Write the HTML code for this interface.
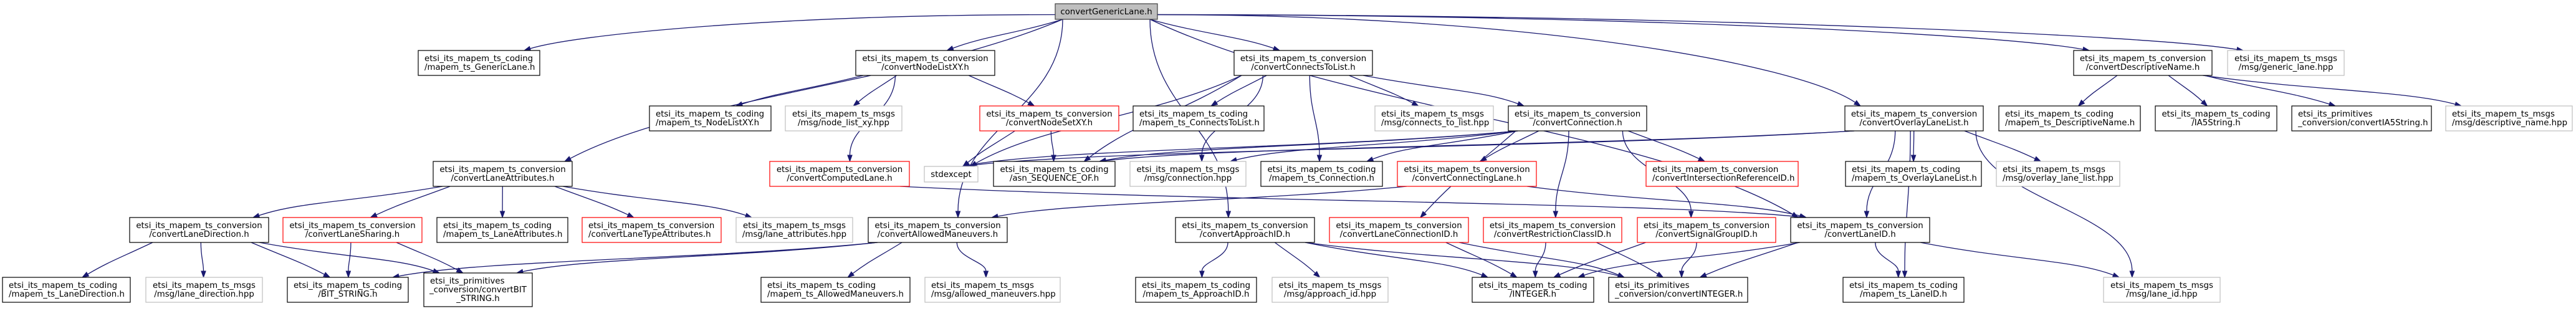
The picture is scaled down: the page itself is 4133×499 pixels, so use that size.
<!DOCTYPE html>
<html><head><meta charset="utf-8"><style>
html,body{margin:0;padding:0;background:#fff;width:4133px;height:499px;overflow:hidden}
svg text{font-family:"DejaVu Sans","Liberation Sans",sans-serif;font-size:13.33px;fill:#000}
</style></head><body>
<svg id="s" width="4133" height="499" viewBox="0 0 4133 499" xmlns="http://www.w3.org/2000/svg">
<g id="edges"></g>
<g id="nodes" stroke-width="1.2">
<rect x="1693" y="6" width="164" height="25" fill="#bfbfbf" stroke="#404040"/><text x="1775" y="23" text-anchor="middle">convertGenericLane.h</text>
<rect x="671" y="81" width="195" height="40" fill="#fff" stroke="#000"/><text x="681" y="98">etsi_its_mapem_ts_coding</text><text x="681" y="112">/mapem_ts_GenericLane.h</text>
<rect x="1373" y="81" width="223" height="40" fill="#fff" stroke="#000"/><text x="1484.5" y="98" text-anchor="middle">etsi_its_mapem_ts_conversion</text><text x="1484.5" y="112" text-anchor="middle">/convertNodeListXY.h</text>
<rect x="1980" y="81" width="222" height="40" fill="#fff" stroke="#000"/><text x="2091" y="98" text-anchor="middle">etsi_its_mapem_ts_conversion</text><text x="2091" y="112" text-anchor="middle">/convertConnectsToList.h</text>
<rect x="3327" y="81" width="222" height="40" fill="#fff" stroke="#000"/><text x="3438" y="98" text-anchor="middle">etsi_its_mapem_ts_conversion</text><text x="3438" y="112" text-anchor="middle">/convertDescriptiveName.h</text>
<rect x="3574" y="81" width="187" height="40" fill="#fff" stroke="#bfbfbf"/><text x="3667.5" y="98" text-anchor="middle">etsi_its_mapem_ts_msgs</text><text x="3667.5" y="112" text-anchor="middle">/msg/generic_lane.hpp</text>

<rect x="1042" y="170" width="195" height="40" fill="#fff" stroke="#000"/><text x="1052" y="187">etsi_its_mapem_ts_coding</text><text x="1052" y="201">/mapem_ts_NodeListXY.h</text>
<rect x="1260" y="170" width="187" height="40" fill="#fff" stroke="#bfbfbf"/><text x="1353.5" y="187" text-anchor="middle">etsi_its_mapem_ts_msgs</text><text x="1353.5" y="201" text-anchor="middle">/msg/node_list_xy.hpp</text>
<rect x="1572" y="170" width="223" height="40" fill="#fff" stroke="#f00"/><text x="1683.5" y="187" text-anchor="middle">etsi_its_mapem_ts_conversion</text><text x="1683.5" y="201" text-anchor="middle">/convertNodeSetXY.h</text>
<rect x="1818" y="170" width="210" height="40" fill="#fff" stroke="#000"/><text x="1828" y="187">etsi_its_mapem_ts_coding</text><text x="1828" y="201">/mapem_ts_ConnectsToList.h</text>
<rect x="2206" y="170" width="190" height="40" fill="#fff" stroke="#bfbfbf"/><text x="2216" y="187">etsi_its_mapem_ts_msgs</text><text x="2216" y="201">/msg/connects_to_list.hpp</text>
<rect x="2420" y="170" width="222" height="40" fill="#fff" stroke="#000"/><text x="2531" y="187" text-anchor="middle">etsi_its_mapem_ts_conversion</text><text x="2531" y="201" text-anchor="middle">/convertConnection.h</text>
<rect x="2960" y="170" width="222" height="40" fill="#fff" stroke="#000"/><text x="3071" y="187" text-anchor="middle">etsi_its_mapem_ts_conversion</text><text x="3071" y="201" text-anchor="middle">/convertOverlayLaneList.h</text>
<rect x="3207" y="170" width="227" height="40" fill="#fff" stroke="#000"/><text x="3217" y="187">etsi_its_mapem_ts_coding</text><text x="3217" y="201">/mapem_ts_DescriptiveName.h</text>
<rect x="3458" y="170" width="195" height="40" fill="#fff" stroke="#000"/><text x="3555.5" y="187" text-anchor="middle">etsi_its_mapem_ts_coding</text><text x="3555.5" y="201" text-anchor="middle">/IA5String.h</text>
<rect x="3677" y="170" width="224" height="40" fill="#fff" stroke="#000"/><text x="3687" y="187">etsi_its_primitives</text><text x="3687" y="201">_conversion/convertIA5String.h</text>
<rect x="3924" y="170" width="203" height="40" fill="#fff" stroke="#bfbfbf"/><text x="3934" y="187">etsi_its_mapem_ts_msgs</text><text x="3934" y="201">/msg/descriptive_name.hpp</text>

<rect x="695" y="259" width="223" height="40" fill="#fff" stroke="#000"/><text x="806.5" y="276" text-anchor="middle">etsi_its_mapem_ts_conversion</text><text x="806.5" y="290" text-anchor="middle">/convertLaneAttributes.h</text>
<rect x="1235" y="259" width="224" height="40" fill="#fff" stroke="#f00"/><text x="1347" y="276" text-anchor="middle">etsi_its_mapem_ts_conversion</text><text x="1347" y="290" text-anchor="middle">/convertComputedLane.h</text>
<rect x="1483" y="267" width="86" height="25" fill="#fff" stroke="#bfbfbf"/><text x="1526" y="284" text-anchor="middle">stdexcept</text>
<rect x="1594" y="259" width="195" height="40" fill="#fff" stroke="#000"/><text x="1691.5" y="276" text-anchor="middle">etsi_its_mapem_ts_coding</text><text x="1691.5" y="290" text-anchor="middle">/asn_SEQUENCE_OF.h</text>
<rect x="1813" y="259" width="186" height="40" fill="#fff" stroke="#bfbfbf"/><text x="1906" y="276" text-anchor="middle">etsi_its_mapem_ts_msgs</text><text x="1906" y="290" text-anchor="middle">/msg/connection.hpp</text>
<rect x="2023" y="259" width="195" height="40" fill="#fff" stroke="#000"/><text x="2120.5" y="276" text-anchor="middle">etsi_its_mapem_ts_coding</text><text x="2120.5" y="290" text-anchor="middle">/mapem_ts_Connection.h</text>
<rect x="2242" y="259" width="223" height="40" fill="#fff" stroke="#f00"/><text x="2353.5" y="276" text-anchor="middle">etsi_its_mapem_ts_conversion</text><text x="2353.5" y="290" text-anchor="middle">/convertConnectingLane.h</text>
<rect x="2641" y="259" width="244" height="40" fill="#fff" stroke="#f00"/><text x="2651" y="276">etsi_its_mapem_ts_conversion</text><text x="2651" y="290">/convertIntersectionReferenceID.h</text>
<rect x="2961" y="259" width="218" height="40" fill="#fff" stroke="#000"/><text x="2971" y="276">etsi_its_mapem_ts_coding</text><text x="2971" y="290">/mapem_ts_OverlayLaneList.h</text>
<rect x="3203" y="259" width="198" height="40" fill="#fff" stroke="#bfbfbf"/><text x="3213" y="276">etsi_its_mapem_ts_msgs</text><text x="3213" y="290">/msg/overlay_lane_list.hpp</text>

<rect x="208" y="349" width="223" height="40" fill="#fff" stroke="#000"/><text x="319.5" y="366" text-anchor="middle">etsi_its_mapem_ts_conversion</text><text x="319.5" y="380" text-anchor="middle">/convertLaneDirection.h</text>
<rect x="454" y="349" width="223" height="40" fill="#fff" stroke="#f00"/><text x="565.5" y="366" text-anchor="middle">etsi_its_mapem_ts_conversion</text><text x="565.5" y="380" text-anchor="middle">/convertLaneSharing.h</text>
<rect x="701" y="349" width="210" height="40" fill="#fff" stroke="#000"/><text x="711" y="366">etsi_its_mapem_ts_coding</text><text x="711" y="380">/mapem_ts_LaneAttributes.h</text>
<rect x="934" y="349" width="223" height="40" fill="#fff" stroke="#f00"/><text x="944" y="366">etsi_its_mapem_ts_conversion</text><text x="944" y="380">/convertLaneTypeAttributes.h</text>
<rect x="1181" y="349" width="187" height="40" fill="#fff" stroke="#bfbfbf"/><text x="1274.5" y="366" text-anchor="middle">etsi_its_mapem_ts_msgs</text><text x="1274.5" y="380" text-anchor="middle">/msg/lane_attributes.hpp</text>
<rect x="1393" y="349" width="223" height="40" fill="#fff" stroke="#000"/><text x="1504.5" y="366" text-anchor="middle">etsi_its_mapem_ts_conversion</text><text x="1504.5" y="380" text-anchor="middle">/convertAllowedManeuvers.h</text>
<rect x="1886" y="349" width="223" height="40" fill="#fff" stroke="#000"/><text x="1997.5" y="366" text-anchor="middle">etsi_its_mapem_ts_conversion</text><text x="1997.5" y="380" text-anchor="middle">/convertApproachID.h</text>
<rect x="2133" y="349" width="223" height="40" fill="#fff" stroke="#f00"/><text x="2244.5" y="366" text-anchor="middle">etsi_its_mapem_ts_conversion</text><text x="2244.5" y="380" text-anchor="middle">/convertLaneConnectionID.h</text>
<rect x="2380" y="349" width="222" height="40" fill="#fff" stroke="#f00"/><text x="2491" y="366" text-anchor="middle">etsi_its_mapem_ts_conversion</text><text x="2491" y="380" text-anchor="middle">/convertRestrictionClassID.h</text>
<rect x="2627" y="349" width="222" height="40" fill="#fff" stroke="#f00"/><text x="2738" y="366" text-anchor="middle">etsi_its_mapem_ts_conversion</text><text x="2738" y="380" text-anchor="middle">/convertSignalGroupID.h</text>
<rect x="2873" y="349" width="223" height="40" fill="#fff" stroke="#000"/><text x="2984.5" y="366" text-anchor="middle">etsi_its_mapem_ts_conversion</text><text x="2984.5" y="380" text-anchor="middle">/convertLaneID.h</text>

<rect x="4" y="445" width="205" height="40" fill="#fff" stroke="#000"/><text x="14" y="462">etsi_its_mapem_ts_coding</text><text x="14" y="476">/mapem_ts_LaneDirection.h</text>
<rect x="234" y="445" width="187" height="40" fill="#fff" stroke="#bfbfbf"/><text x="327.5" y="462" text-anchor="middle">etsi_its_mapem_ts_msgs</text><text x="327.5" y="476" text-anchor="middle">/msg/lane_direction.hpp</text>
<rect x="461" y="445" width="194" height="40" fill="#fff" stroke="#000"/><text x="558" y="462" text-anchor="middle">etsi_its_mapem_ts_coding</text><text x="558" y="476" text-anchor="middle">/BIT_STRING.h</text>
<rect x="680" y="438" width="174" height="54" fill="#fff" stroke="#000"/><text x="690" y="455">etsi_its_primitives</text><text x="767" y="469" text-anchor="middle">_conversion/convertBIT</text><text x="767" y="483" text-anchor="middle">_STRING.h</text>
<rect x="1221" y="445" width="239" height="40" fill="#fff" stroke="#000"/><text x="1231" y="462">etsi_its_mapem_ts_coding</text><text x="1231" y="476">/mapem_ts_AllowedManeuvers.h</text>
<rect x="1484" y="445" width="217" height="40" fill="#fff" stroke="#bfbfbf"/><text x="1494" y="462">etsi_its_mapem_ts_msgs</text><text x="1494" y="476">/msg/allowed_maneuvers.hpp</text>
<rect x="1822" y="445" width="194" height="40" fill="#fff" stroke="#000"/><text x="1919" y="462" text-anchor="middle">etsi_its_mapem_ts_coding</text><text x="1919" y="476" text-anchor="middle">/mapem_ts_ApproachID.h</text>
<rect x="2041" y="445" width="186" height="40" fill="#fff" stroke="#bfbfbf"/><text x="2134" y="462" text-anchor="middle">etsi_its_mapem_ts_msgs</text><text x="2134" y="476" text-anchor="middle">/msg/approach_id.hpp</text>
<rect x="2362" y="445" width="195" height="40" fill="#fff" stroke="#000"/><text x="2459.5" y="462" text-anchor="middle">etsi_its_mapem_ts_coding</text><text x="2459.5" y="476" text-anchor="middle">/INTEGER.h</text>
<rect x="2581" y="445" width="223" height="40" fill="#fff" stroke="#000"/><text x="2591" y="462">etsi_its_primitives</text><text x="2591" y="476">_conversion/convertINTEGER.h</text>
<rect x="2957" y="445" width="194" height="40" fill="#fff" stroke="#000"/><text x="3054" y="462" text-anchor="middle">etsi_its_mapem_ts_coding</text><text x="3054" y="476" text-anchor="middle">/mapem_ts_LaneID.h</text>
<rect x="3375" y="445" width="187" height="40" fill="#fff" stroke="#bfbfbf"/><text x="3468.5" y="462" text-anchor="middle">etsi_its_mapem_ts_msgs</text><text x="3468.5" y="476" text-anchor="middle">/msg/lane_id.hpp</text>
</g>
</svg>
<script>
var N={
G:[1693,1857,6,25],cGL:[671,866,81,40],NL:[1373,1596,81,40],CTL:[1980,2202,81,40],DN:[3327,3549,81,40],glh:[3574,3761,81,40],
cNL:[1042,1237,170,40],nlh:[1260,1447,170,40],NS:[1572,1795,170,40],cCTL:[1818,2028,170,40],ctlh:[2206,2396,170,40],CN:[2420,2642,170,40],OL:[2960,3182,170,40],cDN:[3207,3434,170,40],cIA:[3458,3653,170,40],pIA:[3677,3901,170,40],dnh:[3924,4127,170,40],
LA:[695,918,259,40],CL:[1235,1459,259,40],SE:[1483,1569,267,25],SEQ:[1594,1789,259,40],ch:[1813,1999,259,40],cCN:[2023,2218,259,40],CG:[2242,2465,259,40],IR:[2641,2885,259,40],cOL:[2961,3179,259,40],olh:[3203,3401,259,40],
LD:[208,431,349,40],LS:[454,677,349,40],cLA:[701,911,349,40],LT:[934,1157,349,40],lah:[1181,1368,349,40],AM:[1393,1616,349,40],AP:[1886,2109,349,40],LC:[2133,2356,349,40],RC:[2380,2602,349,40],SG:[2627,2849,349,40],LI:[2873,3096,349,40],
cLD:[4,209,445,40],ldh:[234,421,445,40],BS:[461,655,445,40],pBS:[680,854,438,54],cAM:[1221,1460,445,40],amh:[1484,1701,445,40],cAP:[1822,2016,445,40],aph:[2041,2227,445,40],INT:[2362,2557,445,40],pINT:[2581,2804,445,40],cLI:[2957,3151,445,40],lih:[3375,3562,445,40]};
var E=[["G","cGL"],["G","LA"],["G","AM"],["G","AP"],["G","NL"],["G","CTL"],["G","LI"],["G","OL"],["G","DN"],["G","glh"],
["NL","cNL"],["NL","nlh"],["NL","CL"],["NL","NS"],["NS","SE"],["NS","SEQ"],["CL","LI"],
["CTL","cCTL"],["CTL","ctlh"],["CTL","CN"],["CTL","SE"],["CTL","SEQ"],["CTL","ch"],["CTL","cCN"],
["CN","ch"],["CN","cCN"],["CN","CG"],["CN","SE"],["CN","SEQ"],["CN","IR"],["CN","RC"],["CN","SG"],["CN","LC"],
["OL","cOL"],["OL","olh"],["OL","LI"],["OL","cLI"],["OL","lih"],["OL","SE"],["OL","SEQ"],
["DN","cDN"],["DN","cIA"],["DN","pIA"],["DN","dnh"],
["LA","LD"],["LA","LS"],["LA","cLA"],["LA","LT"],["LA","lah"],
["LD","cLD"],["LD","ldh"],["LD","BS"],["LD","pBS"],["LS","BS"],["LS","pBS"],
["AM","BS"],["AM","pBS"],["AM","cAM"],["AM","amh"],
["AP","cAP"],["AP","aph"],["AP","INT"],["AP","pINT"],
["LC","INT"],["LC","pINT"],["RC","INT"],["RC","pINT"],["SG","INT"],["SG","pINT"],
["LI","INT"],["LI","pINT"],["LI","cLI"],["LI","lih"],["CG","LI"],["CG","AM"]];
var g=document.getElementById("edges"),out="";
function cl(v,a,b){return Math.max(a,Math.min(b,v));}
E.forEach(function(e){
 var s=N[e[0]],t=N[e[1]];
 var scx=(s[0]+s[1])/2,tcx=(t[0]+t[1])/2,sy=s[2]+s[3],ty=t[2];
 var dx=tcx-scx,dy=ty-sy;
 var sx,tx,c1x,c1y,c2x,c2y,syy=sy;
 if(Math.abs(dx)>5*dy+150){
   tx=dx>0?cl(t[0]+25,t[0],t[1]):cl(t[1]-25,t[0],t[1]);
   if(e[0]=="G"){
     sx=dx>0?s[1]:s[0]; syy=s[2]+s[3]*0.7;
     c1x=sx+dx*0.45;c1y=syy;c2x=tx-dx*0.08;c2y=ty-dy*0.5;
   } else {
     sx=dx>0?s[1]-15:s[0]+15; syy=sy;
     c1x=sx+dx*0.3;c1y=sy+dy*0.5;c2x=tx-dx*0.15;c2y=ty-dy*0.5;
   }
 } else {
   sx=cl(scx+dx*0.35,s[0]+12,s[1]-12);
   tx=cl(tcx-dx*0.12,t[0]+12,t[1]-12);
   c1x=sx;c1y=sy+dy*0.45;c2x=tx;c2y=ty-dy*0.45;
   if(Math.abs(dx)>2*dy){c1x=sx+dx*0.25;c2x=tx-dx*0.2;}
 }
 var ux=tx-c2x,uy=ty-c2y,l=Math.sqrt(ux*ux+uy*uy)||1;ux/=l;uy/=l;
 var ex=tx-ux*10,ey=ty-uy*10,px=-uy*3.6,py=ux*3.6;
 out+='<path d="M'+sx.toFixed(1)+','+syy.toFixed(1)+' C'+c1x.toFixed(1)+','+c1y.toFixed(1)+' '+c2x.toFixed(1)+','+c2y.toFixed(1)+' '+ex.toFixed(1)+','+ey.toFixed(1)+'" fill="none" stroke="#191970" stroke-width="1.3"/>';
 out+='<polygon points="'+tx.toFixed(1)+','+ty.toFixed(1)+' '+(ex+px).toFixed(1)+','+(ey+py).toFixed(1)+' '+(ex-px).toFixed(1)+','+(ey-py).toFixed(1)+'" fill="#191970" stroke="#191970"/>';
});
g.innerHTML=out;
</script>
</body></html>
